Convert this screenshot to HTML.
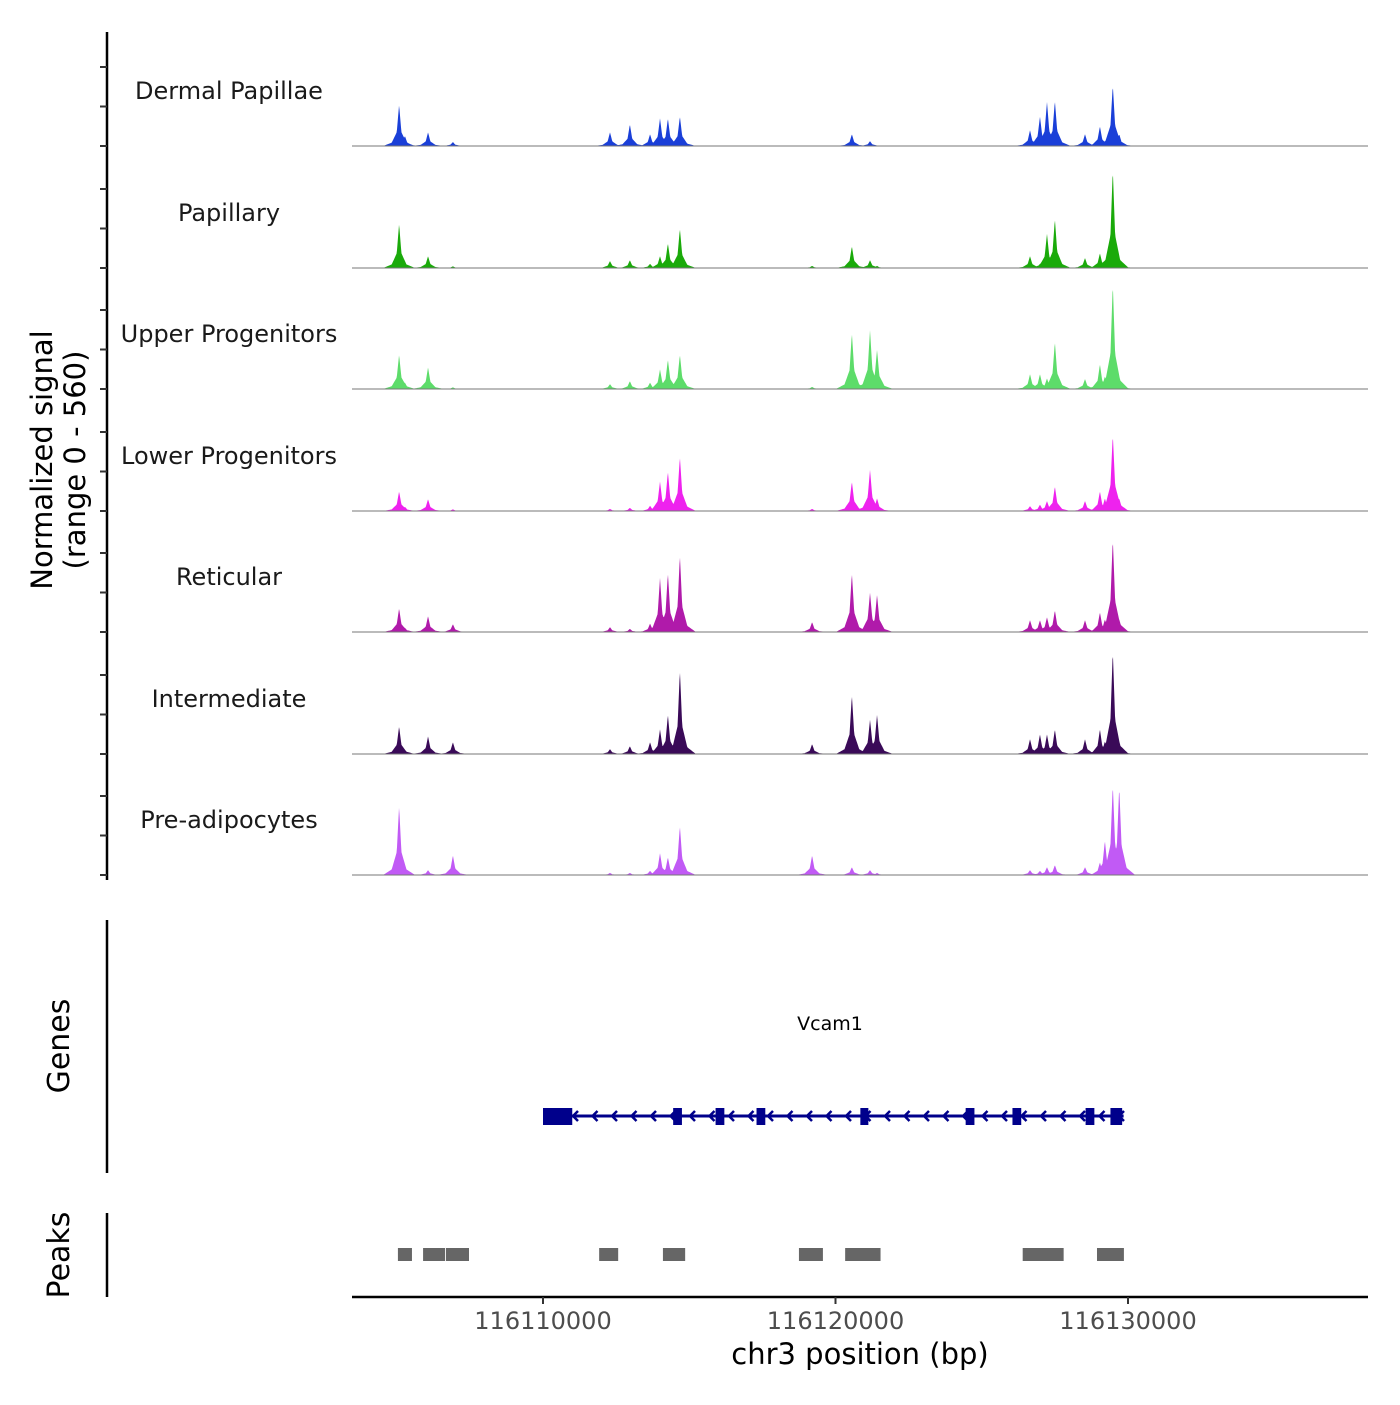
<!DOCTYPE html>
<html><head><meta charset="utf-8"><style>
body{margin:0;background:#fff;}
svg text{font-family:"DejaVu Sans","Liberation Sans",sans-serif;}
</style></head><body>
<svg id="chart" width="1400" height="1400" viewBox="0 0 1400 1400" xmlns="http://www.w3.org/2000/svg">
<g id="tracks"></g>
<g id="axes">
<line x1="107" y1="32" x2="107" y2="880" stroke="#000" stroke-width="2.5"/>
<line x1="107" y1="920" x2="107" y2="1173" stroke="#000" stroke-width="2.5"/>
<line x1="107" y1="1213" x2="107" y2="1297" stroke="#000" stroke-width="2.5"/>
<line x1="352" y1="1297" x2="1368" y2="1297" stroke="#000" stroke-width="2.5"/>
<text x="52" y="460" font-size="29" text-anchor="middle" transform="rotate(-90 52 460)"><tspan x="52" dy="0">Normalized signal</tspan><tspan x="52" dy="33">(range 0 - 560)</tspan></text>
<text x="69" y="1046" font-size="30" text-anchor="middle" transform="rotate(-90 69 1046)">Genes</text>
<text x="69" y="1255" font-size="30" text-anchor="middle" transform="rotate(-90 69 1255)">Peaks</text>
<text x="860" y="1364" font-size="29" text-anchor="middle">chr3 position (bp)</text>
</g>
<g id="genes"></g>
<g id="peaks"></g>
</svg>
<script>
const trackNames = ["Dermal Papillae","Papillary","Upper Progenitors","Lower Progenitors","Reticular","Intermediate","Pre-adipocytes"];
const trackColors = ["#1a3fd8","#1aaa0a","#5ddc6a","#ee22ee","#b01aaa","#3a0a58","#c15af5"];
const peakPosKb = [105.08,105.28,106.07,106.92,112.29,112.97,113.66,114.0,114.27,114.68,119.2,120.56,121.18,121.42,126.65,126.99,127.23,127.5,128.53,129.04,129.21,129.48,129.7];
const dermalPapillae = [196,47,65,19,65,103,56,131,131,140,0,56,23,0,75,140,210,215,56,93,0,290,56];
const papillary = [210,20,56,8,33,37,20,56,117,187,10,103,37,10,56,20,163,233,47,70,30,467,50];
const upperProgenitors = [163,30,103,8,23,37,30,93,140,163,10,266,280,187,70,70,50,224,47,117,60,500,60];
const lowerProgenitors = [93,20,56,8,10,15,25,140,187,257,10,140,196,60,23,30,47,117,47,93,60,364,60];
const reticular = [112,20,75,37,23,15,40,257,280,364,47,280,187,177,56,56,70,103,56,93,60,443,60];
const intermediate = [131,20,84,56,23,37,56,117,187,397,47,280,163,187,70,93,93,117,70,117,60,490,60];
const preAdipocytes = [327,10,23,93,10,10,20,103,84,233,93,37,23,10,23,20,37,47,37,60,163,430,420];
const seriesList = [dermalPapillae,papillary,upperProgenitors,lowerProgenitors,reticular,intermediate,preAdipocytes];
const xTicks = [116110000,116120000,116130000];
const geneExonStartKb = [110.0,114.45,115.9,117.3,120.85,124.45,126.05,128.55,129.4];
const geneExonEndKb = [111.0,114.75,116.2,117.6,121.1,124.75,126.35,128.85,129.8];
const geneStartKb = 110.0, geneEndKb = 129.85;
const peakRegionStartKb = [105.04,105.9,106.68,111.92,114.1,118.75,120.33,126.4,128.94];
const peakRegionEndKb = [105.52,106.65,107.47,112.57,114.86,119.57,121.54,127.8,129.86];

const NS="http://www.w3.org/2000/svg";
const X0=352,X1=1368;
const xScale = bp => 543 + (bp-116110000)/20000*585;
const xKb = kb => xScale(116000000+kb*1000);
const baselines=[146,268,389,511,632,754,875];
const yMax=560, hPx=118;
function mk(tag,attrs,parent){const e=document.createElementNS(NS,tag);for(const k in attrs)e.setAttribute(k,attrs[k]);parent.appendChild(e);return e;}
const tracks=document.getElementById('tracks');
const axes=document.getElementById('axes');
seriesList.forEach((vals,t)=>{
  const b=baselines[t];
  const g=mk('g',{},tracks);
  
  
  let d='M'+X0+','+b;
  for(let x=X0;x<=X1;x+=0.5){
    let v=0;
    peakPosKb.forEach((p,i)=>{
      const dx=Math.abs(x-xKb(p));
      const h=vals[i];
      v=Math.max(v,h*Math.max(0,1-dx/3.5),0.45*h*Math.max(0,1-dx/9),0.15*h*Math.max(0,1-dx/16));
    });
    d+=' L'+x+','+(b-v/yMax*hPx).toFixed(2);
  }
  d+=' L'+X1+','+b+' Z';
  const a=mk('path',{d:d,fill:trackColors[t]},g);
  
  
  const bl=mk('line',{x1:X0,x2:X1,y1:b,y2:b,stroke:'#777','stroke-width':1},g);
  
  
  const lab=mk('text',{x:229,y:b-47,'font-size':24,'text-anchor':'middle',fill:'#1a1a1a'},g);
  lab.textContent=trackNames[t];
  
  
  [0,1,2].forEach(k=>{
    const tk=mk('line',{x1:100,x2:107,y1:b-k*39.5,y2:b-k*39.5,stroke:'#333','stroke-width':2},axes);
    
    
  });
});
xTicks.forEach(v=>{
  const x=xScale(v);
  const tk=mk('line',{x1:x,x2:x,y1:1297,y2:1304,stroke:'#333','stroke-width':2},axes);
  
  
  const tl=mk('text',{x:x,y:1329,'font-size':24,'text-anchor':'middle',fill:'#4d4d4d'},axes);
  tl.textContent=String(v);
  
  
});
const genes=document.getElementById('genes');
const gc='#00008b';
const gl=mk('line',{x1:xKb(geneStartKb),x2:xKb(geneEndKb),y1:1116,y2:1116,stroke:gc,'stroke-width':3},genes);


for(let x=xKb(geneStartKb)+30;x<xKb(geneEndKb)-4;x+=19.5){
  const ar=mk('path',{d:`M${x+5},${1111} L${x},${1116} L${x+5},${1121}`,stroke:gc,'stroke-width':2.5,fill:'none'},genes);
  
  
}
geneExonStartKb.forEach((s,i)=>{
  const x1=xKb(s),x2=xKb(geneExonEndKb[i]);
  const r=mk('rect',{x:x1,y:1108,width:Math.max(x2-x1,8),height:17,fill:gc},genes);
  
  
});
const gt=mk('text',{x:830,y:1030,'font-size':19,'text-anchor':'middle',fill:'#000'},genes);
gt.textContent='Vcam1';


const peaks=document.getElementById('peaks');
peakRegionStartKb.forEach((s,i)=>{
  const x1=xKb(s),x2=xKb(peakRegionEndKb[i]);
  const r=mk('rect',{x:x1,y:1248,width:x2-x1,height:13,fill:'#666'},peaks);
  
  
});
</script>
</body></html>
